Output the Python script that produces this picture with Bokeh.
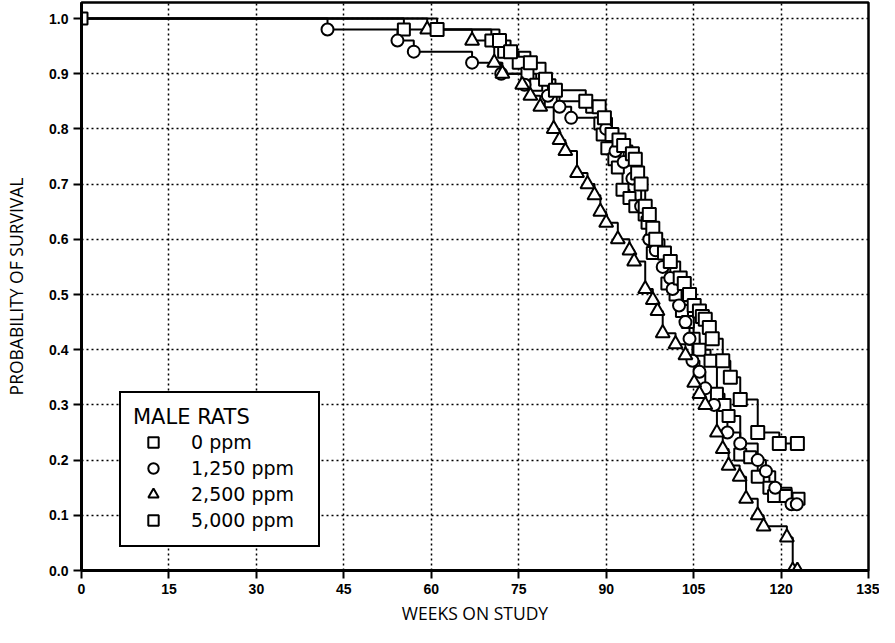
from bokeh.plotting import figure
from bokeh.models import FixedTicker, Legend, LegendItem, Range1d, NumeralTickFormatter
from bokeh.embed import file_html
from bokeh.resources import INLINE

# ---- data ----
x_ticks = [0, 15, 30, 45, 60, 75, 90, 105, 120, 135]
y_ticks = [0.0, 0.1, 0.2, 0.3, 0.4, 0.5, 0.6, 0.7, 0.8, 0.9, 1.0]

weeks_0 = [0, 55.3, 70.3, 72.5, 75.0, 76.5, 78.0, 80.5, 87.6, 89.0, 89.4, 90.2, 91.4, 92.0, 92.8,
           94.0, 95.0, 96.6, 97.1, 98.0, 100.5, 101.9, 103.0, 104.0, 105.0, 106.0, 107.9, 109.0,
           110.3, 111.0, 113.0, 114.7, 116.0, 118.0, 118.8, 120.8, 123.0]
surv_0 = [1.0, 0.98, 0.96, 0.94, 0.92, 0.90, 0.88, 0.85, 0.84, 0.81, 0.79, 0.765, 0.745, 0.73, 0.69,
          0.675, 0.66, 0.645, 0.63, 0.575, 0.52, 0.50, 0.47, 0.45, 0.42, 0.40, 0.38, 0.32,
          0.30, 0.28, 0.21, 0.205, 0.17, 0.15, 0.135, 0.135, 0.13]

weeks_1250 = [0, 42.2, 54.2, 57.0, 67.0, 72.0, 76.0, 80.0, 82.0, 84.0, 90.0, 91.6, 93.0, 94.5, 96.0,
              97.4, 98.5, 99.7, 101.0, 101.4, 102.5, 103.6, 104.3, 104.8, 106.0, 107.0, 108.5,
              110.8, 113.0, 116.0, 117.4, 119.0, 121.8, 122.7]
surv_1250 = [1.0, 0.98, 0.96, 0.94, 0.92, 0.90, 0.88, 0.86, 0.84, 0.82, 0.80, 0.76, 0.74, 0.71, 0.66,
             0.60, 0.58, 0.55, 0.53, 0.51, 0.48, 0.45, 0.42, 0.38, 0.36, 0.33, 0.30,
             0.25, 0.23, 0.20, 0.18, 0.15, 0.12, 0.12]

weeks_2500 = [0, 59.3, 67.0, 70.8, 72.2, 75.6, 77.0, 78.7, 81.0, 82.0, 83.0, 85.0, 86.8, 88.0, 89.0,
              90.0, 92.0, 94.0, 94.8, 96.7, 98.0, 98.8, 99.7, 101.9, 103.6, 105.1, 106.0, 107.0,
              109.0, 110.0, 111.0, 112.9, 114.0, 116.0, 117.0, 121.0, 122.0, 122.8]
surv_2500 = [1.0, 0.98, 0.96, 0.92, 0.90, 0.88, 0.86, 0.84, 0.80, 0.78, 0.76, 0.72, 0.70, 0.68, 0.65,
             0.63, 0.60, 0.58, 0.56, 0.51, 0.49, 0.47, 0.43, 0.41, 0.39, 0.34, 0.32, 0.30,
             0.25, 0.22, 0.19, 0.17, 0.13, 0.10, 0.08, 0.06, 0.0, 0.0]

weeks_5000 = [0, 61.0, 71.7, 73.6, 77.0, 79.6, 81.3, 86.5, 88.8, 89.7, 91.0, 92.2, 93.0, 94.5, 95.0,
              95.4, 96.0, 96.7, 97.4, 98.0, 98.5, 100.0, 101.0, 102.7, 103.4, 104.3, 105.1, 106.0,
              106.5, 107.0, 107.7, 108.2, 110.0, 111.3, 113.0, 116.0, 119.7, 122.8]
surv_5000 = [1.0, 0.98, 0.96, 0.94, 0.92, 0.89, 0.87, 0.85, 0.84, 0.82, 0.79, 0.78, 0.77, 0.755, 0.745,
             0.72, 0.70, 0.66, 0.645, 0.62, 0.60, 0.575, 0.56, 0.53, 0.52, 0.50, 0.48, 0.47,
             0.46, 0.455, 0.44, 0.42, 0.38, 0.35, 0.31, 0.25, 0.23, 0.23]

group_labels = ["0 ppm", "1,250 ppm", "2,500 ppm", "5,000 ppm"]

# ---- figure ----
p = figure(width=879, height=627, x_range=Range1d(0, 135), y_range=Range1d(0, 1.029),
           output_backend="svg", toolbar_location=None,
           min_border_left=81, min_border_right=11, min_border_top=2, min_border_bottom=54)

p.outline_line_color = "black"
p.outline_line_width = 2.5
p.outline_line_alpha = 1.0
p.background_fill_color = "white"
p.border_fill_color = "white"

p.xaxis.ticker = FixedTicker(ticks=x_ticks)
p.yaxis.ticker = FixedTicker(ticks=y_ticks)
p.yaxis.formatter = NumeralTickFormatter(format="0.0")

for ax in (p.xaxis[0], p.yaxis[0]):
    ax.axis_line_width = 3
    ax.axis_line_color = "black"
    ax.major_tick_line_width = 2
    ax.major_tick_line_color = "black"
    ax.major_tick_out = 8
    ax.major_tick_in = 0
    ax.minor_tick_line_color = None
    ax.major_label_text_font = "Liberation Sans"
    ax.major_label_text_font_style = "bold"
    ax.major_label_text_font_size = "14px"
    ax.major_label_text_color = "black"
    ax.axis_label_text_font = "Open Sans"
    ax.axis_label_text_font_style = "normal"
    ax.axis_label_text_font_size = "17.5px"
    ax.axis_label_text_color = "black"

p.xaxis.axis_label = "WEEKS ON STUDY"
p.yaxis.axis_label = "PROBABILITY OF SURVIVAL"
p.xaxis.major_label_standoff = 5
p.yaxis.major_label_standoff = 5
p.xaxis.axis_label_standoff = 4
p.yaxis.axis_label_standoff = 18

for g in (p.xgrid[0], p.ygrid[0]):
    g.grid_line_color = "black"
    g.grid_line_dash = "2 3"
    g.grid_line_width = 1.5
    g.grid_line_alpha = 1.0

series = [
    (weeks_0, surv_0, "square", 12),
    (weeks_1250, surv_1250, "circle", 12),
    (weeks_2500, surv_2500, "triangle", 14),
    (weeks_5000, surv_5000, "square", 13),
]

scatters = []
for i, (wk, sv, mk, sz) in enumerate(series):
    p.step(wk, sv, mode="after", line_color="black", line_width=2)
for i, (wk, sv, mk, sz) in enumerate(series):
    start = 0 if i == 0 else 1
    r = p.scatter(wk[start:], sv[start:], marker=mk, size=sz, fill_color="white",
                  line_color="black", line_width=2)
    scatters.append(r)

legend = Legend(items=[LegendItem(label=lab, renderers=[r]) for lab, r in zip(group_labels, scatters)],
                location=(38, 23), title="MALE RATS")
legend.border_line_color = "black"
legend.border_line_alpha = 1.0
legend.border_line_width = 2.5
legend.background_fill_color = "white"
legend.background_fill_alpha = 1.0
legend.padding = 12
legend.margin = 0
legend.spacing = 0
legend.glyph_width = 40
legend.glyph_height = 26
legend.label_height = 20
legend.label_width = 115
legend.label_standoff = 18
legend.label_text_font = "DejaVu Sans"
legend.label_text_font_size = "19px"
legend.label_text_color = "black"
legend.title_text_font = "DejaVu Sans"
legend.title_text_font_size = "21px"
legend.title_text_font_style = "normal"
legend.title_text_color = "black"
legend.title_standoff = 0
p.add_layout(legend)

open("out.html", "w").write(file_html(p, INLINE))
